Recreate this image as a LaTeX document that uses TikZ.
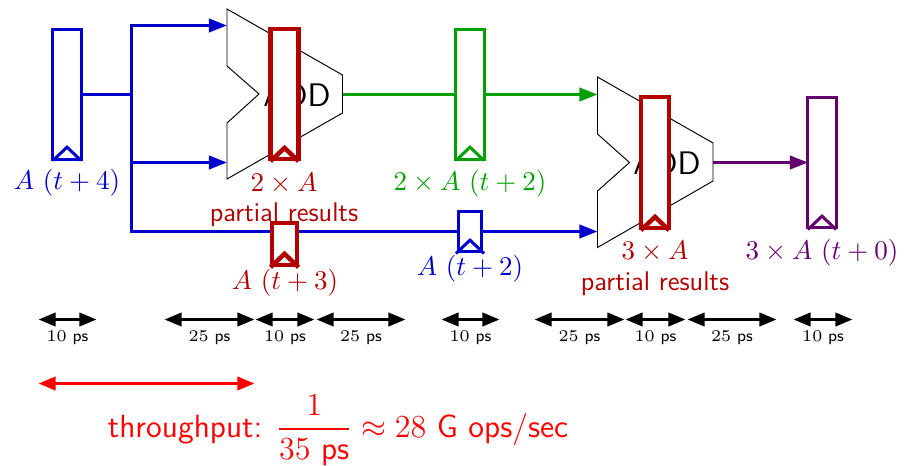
\RequirePackage{fix-cm}
\documentclass[tikz,border=0pt]{standalone}
\usepackage{amsmath}
\usetikzlibrary{arrows.meta}
\definecolor{cblue}{RGB}{0,0,205}
\definecolor{cred}{RGB}{178,0,0}
\definecolor{cgreen}{RGB}{0,160,0}
\definecolor{cpurple}{RGB}{100,0,110}
\definecolor{cbright}{RGB}{255,0,0}
\renewcommand{\familydefault}{\sfdefault}
\tikzset{
  wire/.style={line width=1.26pt,-{Triangle[length=7.6pt,width=5.6pt]}},
  plainwire/.style={line width=1.26pt},
  span/.style={line width=1.26pt,{Triangle[length=7.2pt,width=5.6pt]}-{Triangle[length=7.2pt,width=5.6pt]}},
  adderbody/.style={draw=black,line width=0.4pt,fill=white},
  reg/.style={draw=#1,fill=white,line width=1.26pt,inner sep=0pt,minimum width=11.8pt},
  regbold/.style={draw=#1,fill=white,line width=1.9pt,inner sep=0pt,minimum width=11.8pt},
  lab/.style={inner sep=0pt,font=\fontsize{11.35}{13}\selectfont},
  tinylab/.style={inner sep=0pt,font=\fontsize{6.9}{8}\selectfont},
  addlab/.style={inner sep=0pt,font=\fontsize{13.7}{16}\selectfont},
}
\newcommand{\clockmark}[3]{% node, colour, width
  \draw[#2,line width=#3,line join=miter] ([xshift=-5.9pt]#1.south) -- ([yshift=5.6pt]#1.south) -- ([xshift=5.9pt]#1.south);
}
\begin{document}
\begin{tikzpicture}[x=0.42pt,y=-0.42pt]
\useasboundingbox (0,0) rectangle (922,465);
% adders
\coordinate (a1a) at (227,9); \coordinate (a1b) at (342.5,75); \coordinate (a1c) at (342.5,113);
\coordinate (a1d) at (227,179); \coordinate (a1e) at (227,123); \coordinate (a1f) at (259,94); \coordinate (a1g) at (227,66);
\coordinate (a1in1) at (227,25.5); \coordinate (a1in2) at (227,162.5); \coordinate (a1out) at (342.5,94.5);
\draw[adderbody] (a1a)--(a1b)--(a1c)--(a1d)--(a1e)--(a1f)--(a1g)--cycle;
\node[addlab] (add1) at (297,95.5) {ADD};
\coordinate (a2a) at (597.5,77); \coordinate (a2b) at (713,143); \coordinate (a2c) at (713,181);
\coordinate (a2d) at (597.5,247.5); \coordinate (a2e) at (597.5,191); \coordinate (a2f) at (629.5,162.5); \coordinate (a2g) at (597.5,134);
\coordinate (a2in1) at (597.5,94.5); \coordinate (a2in2) at (597.5,231.5); \coordinate (a2out) at (713,162.5);
\draw[adderbody] (a2a)--(a2b)--(a2c)--(a2d)--(a2e)--(a2f)--(a2g)--cycle;
\node[addlab] (add2) at (667,163.5) {ADD};
% wires
\coordinate (fan) at (131.5,94.5);
\coordinate (regBout) at (81,94.5);
\draw[plainwire,cblue] (regBout) -- (fan);
\draw[wire,cblue] (fan) |- (a1in1);
\draw[wire,cblue] (fan) |- (a1in2);
\draw[wire,cblue] (fan) |- (a2in2);
\draw[wire,cgreen] (a1out) -- (a2in1);
\coordinate (p5) at (808,162.5);
\draw[wire,cpurple] (a2out) -- (p5);
% labels under registers (behind the registers)
\node[lab,text=cred] (l2a) at (284,183) {$2\times A$};
\node[lab,text=cred] (l2p) at (284,214.5) {partial results};
% registers
\node[reg=cblue,minimum height=54.6pt] (r1) at (67,94) {};
\clockmark{r1}{cblue}{1.26pt}
\node[regbold=cred,minimum height=54.6pt] (r2) at (284.5,94) {};
\clockmark{r2}{cred}{1.9pt}
\node[reg=cgreen,minimum height=54.6pt] (r3) at (470,94) {};
\clockmark{r3}{cgreen}{1.26pt}
\node[regbold=cred,minimum height=17.6pt,minimum width=10.4pt] (r4) at (284.5,244) {};
\clockmark{r4}{cred}{1.9pt}
\node[reg=cblue,minimum height=17.2pt,minimum width=10pt] (r5) at (470,231.5) {};
\clockmark{r5}{cblue}{1.26pt}
\node[regbold=cred,minimum height=55pt] (r6) at (655,162.5) {};
\clockmark{r6}{cred}{1.9pt}
\node[reg=cpurple,minimum height=55pt] (r7) at (822,162.5) {};
\clockmark{r7}{cpurple}{1.26pt}
% labels
\node[lab,text=cblue] (l1) at (67,182.5) {$A~(t+4)$};
\node[lab,text=cgreen] (l3) at (470,183.5) {$2\times A~(t+2)$};
\node[lab,text=cred] (l4) at (285,282.5) {$A~(t+3)$};
\node[lab,text=cblue] (l5) at (470,268.5) {$A~(t+2)$};
\node[lab,text=cred] (l6a) at (655,251.5) {$3\times A$};
\node[lab,text=cred] (l6p) at (655,283.5) {partial results};
\node[lab,text=cpurple] (l7) at (822,252.5) {$3\times A~(t+0)$};
% timing spans
\foreach \n/\a/\b/\t in {s1/39/96/10,s2/165/254/25,s3/256/314/10,s4/317/405/25,s5/442/499/10,s6/535/624/25,s7/626/685/10,s8/688/776/25,s9/794/852/10}{
  \coordinate (\n l) at (\a-0.5,319.5);
  \coordinate (\n r) at (\b+0.5,319.5);
  \draw[span] (\n l) -- (\n r);
  \node[tinylab] (\n t) at ({(\a+\b)/2},338) {$\t$ ps};
}
\coordinate (tl) at (38.5,383.5);
\coordinate (tr) at (254.5,383.5);
\draw[span,cbright] (tl) -- (tr);
\node[inner sep=0pt,text=cbright,font=\fontsize{13.5}{16}\selectfont] (tp) at (338,430) {throughput: $\displaystyle\frac{1}{35\text{ ps}}\approx 28$ G ops/sec};
\end{tikzpicture}
\end{document}
